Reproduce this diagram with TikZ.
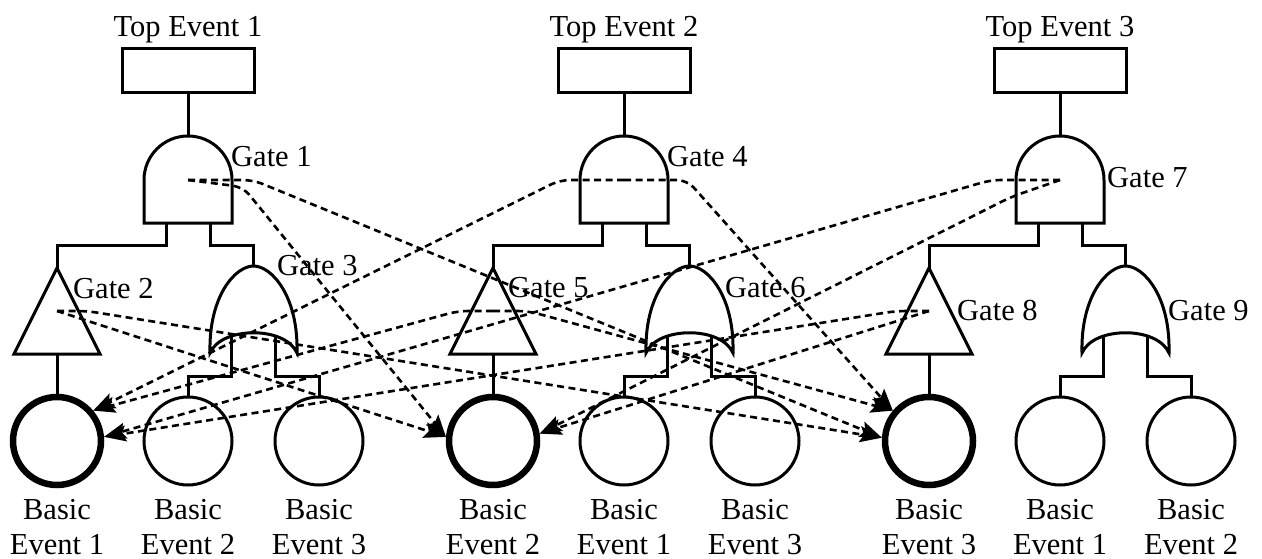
\documentclass[tikz,border=0pt]{standalone}
\usepackage{fontspec}
\setmainfont{Liberation Serif}
\usetikzlibrary{arrows.meta}
\begin{document}
\begin{tikzpicture}[x=1pt,y=-1pt,
  wire/.style={line width=3pt},
  topbox/.style={draw, line width=3pt, minimum width=132pt, minimum height=44pt, inner sep=0pt},
  ev/.style={circle, draw, line width=3pt, minimum size=88pt, inner sep=0pt},
  keyev/.style={ev, line width=6.5pt},
  lbl/.style={inner sep=0pt, font=\fontsize{30.5}{35}\selectfont},
  dep/.style={line width=2.6pt, dash pattern=on 7pt off 4.5pt, rounded corners=10pt,
              -{Stealth[length=22pt,width=16pt,inset=4pt]}},
  andgate/.pic={
    \draw[wire] (-44,43) -- (-44,0) .. controls (-44,-24.3) and (-24.3,-44) .. (0,-44)
      .. controls (24.3,-44) and (44,-24.3) .. (44,0) -- (44,43) -- cycle;
    \coordinate (-top) at (0,-44);
    \coordinate (-l) at (-22,43);
    \coordinate (-r) at (22,43);
    \coordinate (-c) at (0,0);
  },
  trigate/.pic={
    \draw[wire] (0,-43) -- (43,43) -- (-43,43) -- cycle;
    \coordinate (-top) at (0,-43);
    \coordinate (-bot) at (0,43);
    \coordinate (-c) at (0,0);
  },
  orgate/.pic={
    \draw[wire] (-43.5,87) .. controls (-45,30) and (-18,0) .. (0,0)
      .. controls (18,0) and (45,30) .. (43.5,87)
      .. controls (32,60) and (-32,60) .. (-43.5,87) -- cycle;
    \coordinate (-top) at (0,0);
    \coordinate (-l) at (-22,70);
    \coordinate (-r) at (22,70);
  }]
\useasboundingbox (0,0) rectangle (1262,559);

% three fault trees: top event, AND gate, transfer triangle, OR gate, basic events
\foreach \t/\c/\na/\nb/\nd in {1/188/1/2/3, 2/624/2/1/3, 3/1060/3/1/2} {
  \pgfmathtruncatemacro\ga{3*\t-2}
  \pgfmathtruncatemacro\gb{3*\t-1}
  \pgfmathtruncatemacro\gc{3*\t}
  \node[lbl, anchor=base] (toplbl\t) at (\c,37) {Top Event \t};
  \node[topbox] (top\t) at (\c,71) {};
  \pic (g\ga) at (\c,180) {andgate};
  \pic (g\gb) at (\c-131,311) {trigate};
  \pic (g\gc) at (\c+65.5,266) {orgate};
  \node[keyev] (t\t-1) at (\c-131,441) {};
  \node[ev] (t\t-2) at (\c,441) {};
  \node[ev] (t\t-3) at (\c+131,441) {};
  \node[lbl, align=center, anchor=north] (b\t-1) at (\c-131,499) {Basic\\Event \na};
  \node[lbl, align=center, anchor=north] (b\t-2) at (\c,499) {Basic\\Event \nb};
  \node[lbl, align=center, anchor=north] (b\t-3) at (\c+131,499) {Basic\\Event \nd};
  \draw[wire] (top\t.south) -- (g\ga-top);
  \draw[wire] (g\ga-l) -- ++(0,22) -| (g\gb-top);
  \draw[wire] (g\ga-r) -- ++(0,22) -| (g\gc-top);
  \draw[wire] (g\gb-bot) -- (t\t-1.north);
  \draw[wire] (g\gc-l) -- ++(0,40) -| (t\t-2.north);
  \draw[wire] (g\gc-r) -- ++(0,40) -| (t\t-3.north);
}

% gate labels
\node[lbl, anchor=base west] (l1) at (231,167) {Gate 1};
\node[lbl, anchor=base west] (l2) at (73,298) {Gate 2};
\node[lbl, anchor=base west] (l3) at (277,275) {Gate 3};
\node[lbl, anchor=base west] (l4) at (667,167) {Gate 4};
\node[lbl, anchor=base west] (l5) at (508,297) {Gate 5};
\node[lbl, anchor=base west] (l6) at (725,297) {Gate 6};
\node[lbl, anchor=base west] (l7) at (1107,188) {Gate 7};
\node[lbl, anchor=base west] (l8) at (957,320) {Gate 8};
\node[lbl, anchor=base west] (l9) at (1168,320) {Gate 9};

% dependencies between trees
\draw[dep] (g1-c) -- ++(65,0) -- (t3-1.176);
\draw[dep] (g1-c) -- ++(55,7) -- (t2-1.175);
\draw[dep] (g2-c) -- ++(30,0) -- (t3-1.176);
\draw[dep] (g2-c) -- (t2-1.175);
\draw[dep] (g4-c) -- ++(-64,0) -- (t1-1.40);
\draw[dep] (g4-c) -- ++(63,0) -- (t3-1.140);
\draw[dep] (g5-c) -- ++(-35,0) -- (t1-1.40);
\draw[dep] (g5-c) -- ++(35,0) -- (t3-1.140);
\draw[dep] (g7-c) -- ++(-69,0) -- (t1-1.5);
\draw[dep] (g7-c) -- ++(-49,17) -- (t2-1.9);
\draw[dep] (g8-c) -- ++(-33,0) -- (t1-1.5);
\draw[dep] (g8-c) -- (t2-1.9);
\end{tikzpicture}
\end{document}
